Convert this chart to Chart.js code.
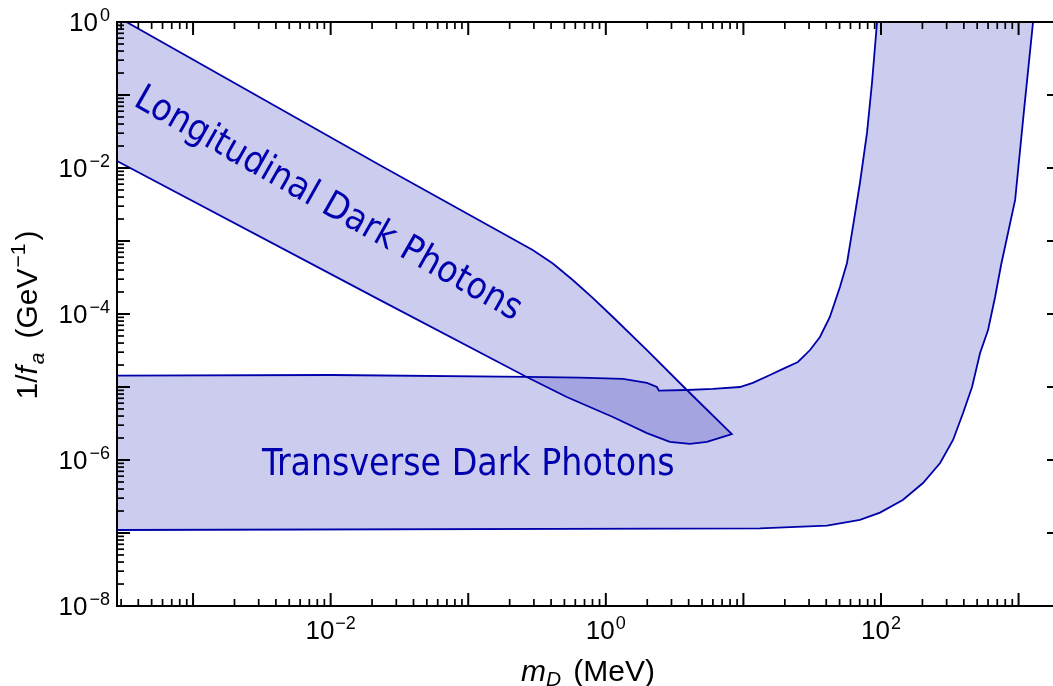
<!DOCTYPE html>
<html>
<head>
<meta charset="utf-8">
<script src="https://cdn.jsdelivr.net/npm/chart.js@4.4.0/dist/chart.umd.min.js"></script>
<style>
  html, body { margin: 0; padding: 0; background: #fff; overflow: hidden; }
  #wrap { width: 1066px; height: 686px; }
</style>
</head>
<body>
<div id="wrap"><canvas id="chart" width="1066" height="686"></canvas></div>
<script>
'use strict';
// 縦偏光ダークフォトン領域の境界 (m_D [MeV], 1/f_a [GeV^-1])
const longitudinalMass = [2.8e-4, 3.28e-4, 0.0227, 0.294, 0.412, 0.575, 0.803, 1.125, 1.99, 3.88, 8.24, 7.10, 5.43, 4.08, 2.92, 1.99, 1.125, 0.52, 0.266, 0.0227, 2.8e-4, 2.8e-4];
const longitudinalCoupling = [1, 1, 0.011, 7.53e-4, 4.92e-4, 2.92e-4, 1.66e-4, 9.1e-5, 3.21e-5, 9.1e-6, 2.27e-6, 2.07e-6, 1.77e-6, 1.66e-6, 1.77e-6, 2.34e-6, 3.88e-6, 7.3e-6, 1.37e-5, 1.56e-4, 0.0125, 1];
// 横偏光ダークフォトン領域の境界
const transverseMass = [2.8e-4, 0.01, 0.266, 0.647, 1.33, 1.99, 2.35, 2.43, 3.88, 6.0, 9.44, 11.7, 15.6, 19.4, 24.9, 30.5, 36.0, 42.5, 50.3, 56.6, 62.5, 70.3, 79.1, 86.0, 93.6, 1274, 1096, 944, 746, 675, 600, 525, 459, 395, 334, 269, 202, 144, 98.4, 70.3, 40.5, 13.2, 2.8e-4, 2.8e-4];
const transverseCoupling = [1.43e-5, 1.46e-5, 1.38e-5, 1.34e-5, 1.29e-5, 1.14e-5, 1.0e-5, 8.9e-6, 9.1e-6, 9.4e-6, 1.0e-5, 1.14e-5, 1.46e-5, 1.77e-5, 2.2e-5, 3.21e-5, 4.84e-5, 9.1e-5, 2.34e-4, 5.0e-4, 1.56e-3, 6.23e-3, 0.0302, 0.146, 1, 1, 0.0624, 3.65e-3, 4.69e-4, 1.71e-4, 6.04e-5, 2.92e-5, 1.0e-5, 4.4e-6, 1.88e-6, 9.1e-7, 4.84e-7, 2.83e-7, 1.9e-7, 1.51e-7, 1.26e-7, 1.16e-7, 1.1e-7, 1.43e-5];
// 軸の範囲
const xRange = [2.8e-4, 2000];
const yRange = [1e-8, 1];
// 目盛りラベル
const xLabelTicks = [1e-2, 1, 100];
const xLabelExps = ['\u22122', '0', '2'];
const yLabelTicks = [1, 1e-2, 1e-4, 1e-6, 1e-8];
const yLabelExps = ['0', '\u22122', '\u22124', '\u22126', '\u22128'];
// 領域ラベル
const longitudinalText = 'Longitudinal Dark Photons';
const transverseText = 'Transverse Dark Photons';

const lineColor = '#0000aa';
const fillColor = 'rgba(0, 0, 170, 0.2)';
const textColor = 'rgb(0, 0, 175)';
const tickFont = '26px "Liberation Sans", Arial, sans-serif';
const supFont = '18px "Liberation Sans", Arial, sans-serif';

function toPoints(xs, ys) {
  return xs.map(function(x, i) { return {x: x, y: ys[i]}; });
}

// 文字列を書式ごとに並べて描く
function drawRuns(ctx, runs, x, y, align) {
  let width = 0;
  runs.forEach(function(r) {
    ctx.font = r.font;
    r.w = ctx.measureText(r.text).width;
    width += r.w + (r.gap || 0);
  });
  let cx = align === 'right' ? x - width : (align === 'left' ? x : x - width / 2);
  runs.forEach(function(r) {
    ctx.font = r.font;
    ctx.fillText(r.text, cx, y + (r.dy || 0));
    cx += r.w + (r.gap || 0);
  });
}

const axisPlugin = {
  id: 'axisFrame',
  afterDatasetsDraw(chart) {
    const ctx = chart.ctx;
    const a = chart.chartArea;
    const xs = chart.scales.x;
    const ys = chart.scales.y;
    ctx.save();
    ctx.strokeStyle = '#000';
    ctx.fillStyle = '#000';
    ctx.lineWidth = 2;
    ctx.strokeRect(a.left, a.top, a.right - a.left, a.bottom - a.top);

    function seg(x1, y1, x2, y2, w) {
      ctx.lineWidth = w;
      ctx.beginPath();
      ctx.moveTo(x1, y1);
      ctx.lineTo(x2, y2);
      ctx.stroke();
    }
    // 横軸の目盛り
    for (let d = -4; d <= 3; d++) {
      for (let m = 1; m <= 9; m++) {
        const v = m * Math.pow(10, d);
        if (v < xRange[0] || v > xRange[1]) continue;
        const px = xs.getPixelForValue(v);
        const len = m === 1 ? 13 : 7;
        const w = m === 1 ? 2 : 1.7;
        seg(px, a.bottom, px, a.bottom - len, w);
        seg(px, a.top, px, a.top + len, w);
      }
    }
    // 縦軸の目盛り
    for (let d = -8; d <= 0; d++) {
      for (let m = 1; m <= 9; m++) {
        const v = m * Math.pow(10, d);
        if (v < yRange[0] || v > yRange[1] * 1.0001) continue;
        const py = ys.getPixelForValue(v);
        const len = m === 1 ? 13 : 7;
        const w = m === 1 ? 2 : 1.7;
        seg(a.left, py, a.left + len, py, w);
        seg(a.right, py, a.right - len, py, w);
      }
    }

    ctx.textBaseline = 'alphabetic';
    // 横軸ラベル
    xLabelTicks.forEach(function(v, i) {
      drawRuns(ctx, [
        {text: '10', font: tickFont, gap: 1},
        {text: xLabelExps[i], font: supFont, dy: -10}
      ], xs.getPixelForValue(v), a.bottom + 33, 'center');
    });
    // 縦軸ラベル
    yLabelTicks.forEach(function(v, i) {
      const py = ys.getPixelForValue(v);
      drawRuns(ctx, [
        {text: '10', font: tickFont, gap: 2},
        {text: yLabelExps[i], font: supFont, dy: -10}
      ], a.left - 7, py + 9, 'right');
    });

    // 軸タイトル
    const titleFont = '30px "Liberation Sans", Arial, sans-serif';
    const titleItalic = 'italic 30px "Liberation Sans", Arial, sans-serif';
    const subFont = 'italic 21px "Liberation Sans", Arial, sans-serif';
    drawRuns(ctx, [
      {text: 'm', font: titleItalic, gap: 0},
      {text: 'D', font: subFont, dy: 5, gap: 12},
      {text: '(MeV)', font: titleFont}
    ], 588, 681, 'center');

    ctx.save();
    ctx.translate(37, 315);
    ctx.rotate(-Math.PI / 2);
    drawRuns(ctx, [
      {text: '1/', font: titleFont},
      {text: 'f', font: titleItalic, gap: 2},
      {text: 'a', font: subFont, dy: 7, gap: 14},
      {text: '(GeV', font: titleFont, gap: 1},
      {text: '\u22121', font: '21px "Liberation Sans", Arial, sans-serif', dy: -12, gap: 3},
      {text: ')', font: titleFont}
    ], 0, 0, 'center');
    ctx.restore();

    // 領域ラベル
    ctx.fillStyle = textColor;
    ctx.font = '37px "DejaVu Sans Condensed", "DejaVu Sans", sans-serif';
    ctx.textAlign = 'left';
    ctx.fillText(transverseText, 262, 475);
    ctx.save();
    ctx.translate(323, 213);
    ctx.rotate(29.5 * Math.PI / 180);
    ctx.textAlign = 'center';
    ctx.fillText(longitudinalText, 0, 0);
    ctx.restore();

    ctx.restore();
  }
};

const regionStyle = {
  showLine: true,
  fill: 'shape',
  backgroundColor: fillColor,
  borderColor: lineColor,
  borderWidth: 1.8,
  pointRadius: 0,
  tension: 0
};

new Chart(document.getElementById('chart').getContext('2d'), {
  type: 'line',
  data: {
    datasets: [
      Object.assign({label: 'Longitudinal', data: toPoints(longitudinalMass, longitudinalCoupling)}, regionStyle),
      Object.assign({label: 'Transverse', data: toPoints(transverseMass, transverseCoupling)}, regionStyle)
    ]
  },
  options: {
    responsive: false,
    animation: false,
    layout: {padding: {left: 117, top: 22, right: 6, bottom: 80}},
    scales: {
      x: {type: 'logarithmic', min: xRange[0], max: xRange[1], display: false},
      y: {type: 'logarithmic', min: yRange[0], max: yRange[1], display: false}
    },
    plugins: {
      legend: {display: false},
      tooltip: {enabled: false},
      filler: {drawTime: 'beforeDatasetsDraw'}
    }
  },
  plugins: [axisPlugin]
});
</script>
</body>
</html>
